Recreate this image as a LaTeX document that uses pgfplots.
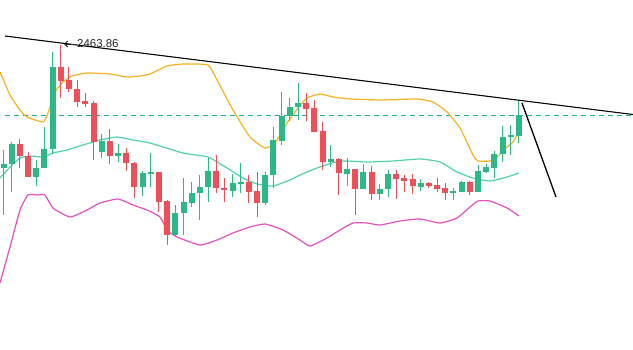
\documentclass[border=0pt]{standalone}
\usepackage{pgfplots}
\pgfplotsset{compat=1.18}
\usepackage{pgfplotstable}
\usepackage{fontspec}
\setmainfont{Liberation Sans}
\usetikzlibrary{arrows.meta}
\definecolor{cgreen}{RGB}{45,185,135}
\definecolor{cred}{RGB}{238,80,90}
\definecolor{cup}{RGB}{245,178,30}
\definecolor{cmid}{RGB}{80,210,172}
\definecolor{clow}{RGB}{225,80,190}
\definecolor{cdash}{RGB}{30,175,145}

% x, body top, body bottom, high, low (pixel rows, y downwards)
\pgfplotstableread{
x t b h l
3.5 164 168 150 215
11.7 144 164 142 192
36.2 168 177 160 186
44.4 149 168 127 168
52.6 67 149 52 154
101.7 141 152 134 158
118.0 153 156 144 162
142.6 173 187 171 196
150.7 172 174 153 187
175.3 213 235 205 237
183.5 202 213 178 235
191.6 193 203 182 207
199.8 187 193 175 220
208.0 171 187 158 202
232.5 183 191 174 197
240.7 182 184 163 193
265.3 175 203 172 205
273.4 140 175 127 188
281.6 116 141 92 145
289.8 107 116 98 121
298.0 103 107 83 120
330.7 159 162 145 167
347.1 169 174 158 186
363.4 172 189 164 189
379.8 189 194 184 200
388.0 174 189 170 197
420.7 183 187 179 191
453.4 191 193 188 200
461.6 182 192 181 192
478.0 171 192 165 192
486.1 167 172 164 173
494.3 154 168 151 178
502.5 137 154 126 162
510.7 135 137 125 155
518.8 115 136 101 143
}\greendata

\pgfplotstableread{
x t b h l
19.9 144 156 139 168
28.0 156 177 152 177
60.8 67 81 45 98
68.9 80 89 67 92
77.1 89 102 80 107
85.3 101 104 93 107
93.5 103 142 101 160
109.8 141 156 129 164
126.2 153 163 148 171
134.4 163 187 162 198
158.9 172 202 172 212
167.1 201 235 200 245
216.2 171 188 155 193
224.4 188 190 178 202
248.9 182 192 175 203
257.1 191 203 172 217
306.2 103 109 93 121
314.3 108 132 100 132
322.5 131 162 122 170
338.9 159 173 158 195
355.2 169 189 169 215
371.6 172 194 166 200
396.1 174 179 170 199
404.3 178 181 175 192
412.5 179 186 174 194
428.9 183 186 182 188
437.0 185 189 178 192
445.2 188 193 183 200
469.8 182 192 181 195
}\reddata

\begin{document}
\begin{tikzpicture}
\begin{axis}[
  width=633bp, height=350bp, scale only axis,
  xmin=0, xmax=633, ymin=0, ymax=350, y dir=reverse,
  hide axis,
]
% dashed price line
\addplot[cdash, line width=1.1bp, dash pattern=on 5bp off 4bp] coordinates {(5,115.5) (633,115.5)};
% upper band
\addplot[cup, line width=1.2bp, smooth, tension=0.3] coordinates {
(0,72) (10,95) (20,110) (27,117) (43,122) (48,113) (55,92) (63,82) (72,76) (87,73) (110,74) (127,77) (140,76) (150,74) (167,66) (183,64) (208,65) (217,80) (233,110) (250,137) (265,148) (275,143) (287,123) (298,108) (307,98) (320,94) (333,97) (350,99) (383,100) (417,99) (433,102) (447,112) (460,128) (473,155) (478,161) (490,161) (497,157) (507,147) (513,142) (519,132)};
% middle band
\addplot[cmid, line width=1.2bp, smooth, tension=0.3] coordinates {
(0,178) (10,167) (20,158) (30,156) (43,157) (53,153) (67,150) (83,145) (100,140) (117,137) (133,140) (150,143) (183,153) (208,157) (227,168) (243,178) (257,184) (273,186) (290,180) (300,175) (317,168) (340,161) (367,162) (393,161) (420,159) (440,162) (457,172) (473,178) (490,181) (507,177) (519,173)};
% lower band
\addplot[clow, line width=1.2bp, smooth, tension=0.3] coordinates {
(0,283) (10,247) (20,210) (28,195) (37,195) (45,195) (53,208) (70,217) (87,210) (100,203) (118,199) (133,205) (147,210) (160,217) (167,230) (177,237) (200,245) (217,240) (233,233) (250,227) (265,224) (283,230) (300,240) (310,246) (327,238) (340,230) (353,223) (367,223) (380,225) (400,221) (420,219) (440,223) (457,218) (470,207) (478,201) (490,201) (507,208) (519,216)};
% wicks
\addplot[draw=none, mark=none, error bars/.cd, y dir=plus, y explicit, error mark=none,
  error bar style={draw=cgreen, line width=1bp}]
  table[x=x, y=h, y error expr=\thisrow{l}-\thisrow{h}] {\greendata};
\addplot[draw=none, mark=none, error bars/.cd, y dir=plus, y explicit, error mark=none,
  error bar style={draw=cred, line width=1bp}]
  table[x=x, y=h, y error expr=\thisrow{l}-\thisrow{h}] {\reddata};
% bodies
\addplot[draw=none, mark=none, error bars/.cd, y dir=plus, y explicit, error mark=none,
  error bar style={draw=cgreen, line width=6bp}]
  table[x=x, y=t, y error expr=\thisrow{b}-\thisrow{t}] {\greendata};
\addplot[draw=none, mark=none, error bars/.cd, y dir=plus, y explicit, error mark=none,
  error bar style={draw=cred, line width=6bp}]
  table[x=x, y=t, y error expr=\thisrow{b}-\thisrow{t}] {\reddata};
% trend line
\addplot[black, line width=1.1bp] coordinates {(5,36) (633,114.5)};
% projection line
\addplot[black, line width=1.3bp] coordinates {(522,103) (556,197)};
% high label
\draw[-{Straight Barb[length=3bp,width=6bp]}, line width=0.9bp, color=black!85] (axis cs:75,44) -- (axis cs:64,44);
\node[anchor=west, inner sep=0pt, text=black!85, font=\fontsize{11.5}{13}\selectfont] at (axis cs:77,43.5) {2463.86};
\end{axis}
\pgfresetboundingbox
\path (current axis.south west) rectangle (current axis.north east);
\end{tikzpicture}
\end{document}
